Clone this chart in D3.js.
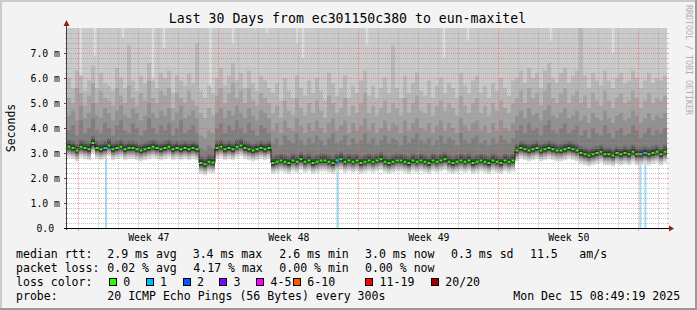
<!DOCTYPE html>
<html><head><meta charset="utf-8">
<script src="https://cdn.jsdelivr.net/npm/d3@7"></script>
<style>
html,body{margin:0;padding:0;background:#f3f3f3;}
svg{display:block;}
text{font-family:"DejaVu Sans Mono",monospace;fill:#000;}
</style></head><body>
<svg id="c" width="697" height="310"></svg>
<script>
// ---------------- DATA ----------------
const titleText = "Last 30 Days from ec301150c380 to eun-maxitel";
const yTicks = [0,1,2,3,4,5,6,7];
const yTickLabels = ["0.0 ","1.0 m","2.0 m","3.0 m","4.0 m","5.0 m","6.0 m","7.0 m"];
const weekLabelPrefix = "Week ";

// median rtt (ms), one value per 4.8 h over 30 days
const med = [3.25,3.2,3.1,3.25,3.2,3.15,3.4,3.2,3.15,3.2,3.3,3.15,3.2,3.25,3.15,3.2,3.2,3.15,3.1,3.15,3.2,3.25,3.2,3.15,3.2,3.25,3.15,3.2,3.15,3.2,3.15,3.2,3.15,
2.6,2.55,2.65,2.62,
3.2,3.25,3.15,3.2,3.15,3.25,3.3,3.2,3.15,3.1,3.15,3.2,3.15,3.2,
2.6,2.65,2.7,2.65,2.6,2.7,2.65,2.75,2.65,2.7,2.6,2.65,2.7,2.7,2.65,2.6,2.7,2.75,2.65,2.7,2.65,2.7,2.6,2.65,2.7,2.65,2.7,2.75,2.65,2.6,2.65,2.7,2.7,2.65,2.6,2.7,2.65,2.7,2.65,2.6,2.7,2.65,2.7,2.75,2.65,2.6,2.65,2.7,2.65,2.7,2.6,2.65,2.7,2.65,2.6,2.7,2.65,2.6,2.7,2.65,2.7,
3.1,3.2,3.15,3.1,3.15,3.2,3.1,3.15,3.2,3.15,3.1,3.1,3.15,3.2,3.15,3.1,
3.0,2.95,2.9,2.95,3.0,3.05,2.95,2.95,2.9,3.0,2.95,3.0,2.95,3.05,2.95,2.95,3.0,2.95,3.0,3.05,2.95,3.05];

// smoke: upper ping quantiles (ms)
const q15 = [3.9,4.1,3.7,4.3,3.8,4.0,4.4,3.9,3.8,4.2,4.0,3.7,4.1,4.3,3.9,3.8,4.2,4.0,3.7,3.9,4.4,4.0,3.8,4.1,3.9,4.2,3.7,4.0,4.3,3.8,3.9,4.1,3.8,
3.2,3.1,3.3,3.2,
4.0,4.2,3.8,4.1,3.9,4.3,4.0,3.8,4.2,3.9,3.7,4.1,4.0,3.8,
3.4,3.6,3.3,3.7,3.5,3.4,3.8,3.5,3.3,3.6,3.4,3.7,3.5,3.3,3.6,3.8,3.4,3.5,3.7,3.3,3.6,3.4,3.5,3.8,3.4,3.6,3.3,3.5,3.7,3.4,3.6,3.5,3.3,3.7,3.4,3.6,3.8,3.5,3.4,3.6,3.3,3.5,3.7,3.4,3.6,3.5,3.3,3.8,3.5,3.4,3.6,3.7,3.4,3.5,3.3,3.6,3.4,3.7,3.5,3.4,3.6,
3.9,4.1,3.8,4.2,3.9,4.0,3.7,4.1,4.3,3.9,3.8,4.0,4.2,3.8,3.9,4.1,
3.7,3.9,3.6,4.0,3.8,3.7,4.1,3.8,3.6,3.9,4.0,3.7,3.8,4.1,3.9,3.6,3.8,4.0,3.7,3.9,3.8,4.0];
const q16 = [4.5,4.7,4.3,4.9,4.4,4.6,5.0,4.5,4.4,4.8,4.6,4.3,4.7,4.9,4.5,4.4,4.8,4.6,4.3,4.5,5.0,4.6,4.4,4.7,4.5,4.8,4.3,4.6,4.9,4.4,4.5,4.7,4.4,
3.7,3.6,3.9,3.8,
4.6,4.8,4.4,4.7,4.5,4.9,4.6,4.4,4.8,4.5,4.3,4.7,4.6,4.4,
3.9,4.2,3.8,4.3,4.0,3.9,4.4,4.1,3.8,4.2,3.9,4.3,4.0,3.8,4.2,4.4,3.9,4.1,4.3,3.8,4.2,3.9,4.1,4.4,3.9,4.2,3.8,4.0,4.3,3.9,4.2,4.1,3.8,4.3,3.9,4.2,4.4,4.0,3.9,4.2,3.8,4.1,4.3,3.9,4.2,4.0,3.8,4.4,4.1,3.9,4.2,4.3,3.9,4.1,3.8,4.2,3.9,4.3,4.0,3.9,4.2,
4.5,4.7,4.4,4.8,4.5,4.6,4.3,4.7,4.9,4.5,4.4,4.6,4.8,4.4,4.5,4.7,
4.3,4.5,4.2,4.6,4.4,4.3,4.7,4.4,4.2,4.5,4.6,4.3,4.4,4.7,4.5,4.2,4.4,4.6,4.3,4.5,4.4,4.6];
const q17 = [5.2,5.0,5.6,5.4,4.9,5.3,5.8,5.0,5.5,5.2,5.1,4.9,5.6,5.3,5.0,5.7,5.2,4.9,5.4,5.1,5.9,5.2,5.0,5.5,5.3,5.6,4.8,5.4,5.2,5.0,5.5,5.1,4.9,
4.6,4.4,4.8,4.5,
5.3,5.6,5.0,5.4,5.8,5.2,5.5,5.0,5.6,5.1,4.9,5.4,5.2,5.0,
4.6,4.9,4.4,5.1,4.7,4.5,5.2,4.8,4.5,5.0,4.6,5.1,4.7,4.4,5.3,5.0,4.6,4.8,5.2,4.5,4.9,4.6,5.0,5.4,4.6,4.9,4.5,4.8,5.1,4.6,5.0,4.8,4.5,5.2,4.6,5.0,5.3,4.7,4.6,5.0,4.5,4.9,5.1,4.7,5.0,4.8,4.5,5.3,4.9,4.6,5.0,5.2,4.6,4.9,4.5,5.0,4.7,5.1,4.8,4.6,5.0,
5.2,5.5,5.0,5.6,5.2,5.4,4.9,5.5,5.8,5.2,5.0,5.4,5.6,5.0,5.3,5.5,
5.0,5.3,4.8,5.4,5.1,4.9,5.5,5.1,4.8,5.2,5.4,5.0,5.1,5.5,5.2,4.8,5.1,5.4,5.0,5.2,5.1,5.3];
const q18 = [6.0,5.6,6.3,6.1,5.5,5.9,6.5,5.6,6.2,5.8,5.7,5.5,6.4,6.0,5.6,7.3,5.9,5.5,6.1,5.8,6.6,5.9,5.6,6.2,6.0,6.3,5.4,6.1,5.9,5.7,6.2,5.8,7.4,
5.5,5.2,5.7,5.4,
6.0,6.4,5.7,6.1,6.6,5.9,6.2,5.6,6.3,5.8,5.5,6.1,5.9,5.6,
5.4,5.8,5.1,6.0,5.5,5.2,6.1,5.6,5.3,5.9,5.4,6.0,5.5,5.1,6.2,5.8,5.3,5.6,6.1,5.2,5.7,5.4,5.9,6.3,5.3,5.7,5.2,5.6,6.0,5.4,7.3,5.6,5.2,6.1,5.4,5.8,6.2,5.5,5.3,5.9,5.2,5.7,6.0,5.4,5.8,5.6,5.2,6.2,5.7,5.4,5.9,6.1,5.4,5.7,5.2,5.8,5.5,6.0,5.6,5.3,5.9,
6.0,6.3,5.8,6.4,6.0,6.2,5.6,6.3,6.6,6.0,5.8,6.2,6.4,5.8,6.1,6.3,
8.5,6.1,5.6,6.2,5.9,5.7,6.3,5.9,5.6,6.0,6.2,5.8,5.9,6.3,6.0,5.6,5.9,6.2,5.8,6.0,5.9,6.1];

// second-highest ping drops below graph top (days from graph start, ms)
const dipDay = [0.69,1.4,2.8,4.3,4.85,7.18,8.3,10.0,11.53,11.8,15.0,18.85,20.05,24.2,27.3];
const dipVal = [5.8,6.9,7.6,6.0,7.2,5.6,7.4,7.8,7.4,6.8,7.3,6.8,7.5,7.5,7.0];

// packet loss events (days from graph start, lost pings of 20)
const lossDay = [1.95,13.52,28.67,28.92];
const lossCount = [1,1,1,1];

const lossLabels = ["0","1","2","3","4-5","6-10","11-19","20/20"];
const lossColors = ["#26ff00","#00b8ff","#0059ff","#7e00ff","#ff00ff","#ff5500","#ff0000","#a10000"];

const row1 = ["median rtt:","2.9 ms avg","3.4 ms max","2.6 ms min","3.0 ms now","0.3 ms sd","11.5","am/s"];
const row2 = ["packet loss:","0.02 % avg","4.17 % max","0.00 % min","0.00 % now"];
const row3Label = "loss color:";
const row4 = ["probe:","20 ICMP Echo Pings (56 Bytes) every 300s","Mon Dec 15 08:49:19 2025"];
const sideText = "RRDTOOL / TOBI OETIKER";
const yTitle = "Seconds";

// ---------------- DRAW ----------------
const W=697,H=310, X0=67, X1=667, Y0=228, Y1=28;
const svg=d3.select("#c");
const start=new Date(2025,10,16,10,26);
const end=new Date(start.getTime()+30*864e5);
const x=d3.scaleTime().domain([start,end]).range([X0,X1]);
const yMax=8;
const y=d3.scaleLinear().domain([0,yMax]).range([Y0,Y1]);
const dayT=d=>new Date(start.getTime()+d*864e5);

// frame
svg.append("rect").attr("width",W).attr("height",H).attr("fill","#f3f3f3");
svg.append("rect").attr("x",0).attr("y",0).attr("width",W).attr("height",2).attr("fill","#cbcbcb");
svg.append("rect").attr("x",0).attr("y",0).attr("width",2).attr("height",H).attr("fill","#cbcbcb");
svg.append("rect").attr("x",0).attr("y",H-2).attr("width",W).attr("height",2).attr("fill","#9a9a9a");
svg.append("rect").attr("x",W-2).attr("y",0).attr("width",2).attr("height",H).attr("fill","#9a9a9a");

svg.append("rect").attr("x",X0).attr("y",Y1).attr("width",X1-X0).attr("height",Y0-Y1).attr("fill","#ffffff");

const defs=svg.append("defs");
defs.append("clipPath").attr("id","plot").append("rect").attr("x",X0).attr("y",Y1).attr("width",X1-X0).attr("height",Y0-Y1);
const g=svg.append("g").attr("clip-path","url(#plot)");

const N=med.length;
const stepMs=(end-start)/N;
const samples=med.map((m,i)=>({t:new Date(start.getTime()+i*stepMs),med:m,q15:q15[i],q16:q16[i],q17:q17[i],q18:q18[i]}));
const sExt=samples.concat([Object.assign({},samples[N-1],{t:end})]);

// loss bars (behind smoke)
g.selectAll("rect.loss").data(lossDay.map((d,i)=>({d,c:lossCount[i]}))).enter().append("rect")
 .attr("x",d=>x(dayT(d.d))-1).attr("width",2)
 .attr("y",y(yMax)).attr("height",y(0)-y(yMax))
 .attr("fill","#9fdcf5");

const grays=["#dddddd","#cacaca","#b7b7b7","#a4a4a4","#919191","#7e7e7e","#6b6b6b","#585858","#454545","#323232"];
const lowOff=[11,9,7.5,6.5,5.5,4.5,3.5,3,2.5,2];
const upF=[
 d=>y(yMax), d=>y(yMax), d=>y(d.q18), d=>y(d.q17), d=>y(d.q16), d=>y(d.q15),
 d=>Math.max(y(d.q15),y(d.med)-7), d=>Math.max(y(d.q15),y(d.med)-5),
 d=>y(d.med)-3.5, d=>y(d.med)-2];
grays.forEach((c,k)=>{
  const a=d3.area().curve(d3.curveStepAfter).x(d=>x(d.t)).y0(d=>y(d.med)+lowOff[k]).y1(upF[k]);
  g.append("path").attr("d",a(sExt)).attr("fill",c);
  if(k===1){
    g.selectAll("rect.dip").data(dipDay.map((d,i)=>({d,v:dipVal[i]}))).enter().append("rect")
      .attr("x",d=>x(dayT(d.d))-1.25).attr("width",2.5)
      .attr("y",y(yMax)).attr("height",d=>y(d.v)-y(yMax)).attr("fill","#dddddd");
  }
});

// median line
const ml=d3.line().curve(d3.curveStepAfter).x(d=>x(d.t)).y(d=>y(d.med));
g.append("path").attr("d",ml(sExt)).attr("fill","none").attr("stroke","#1a1a1a").attr("stroke-width",1);
g.selectAll("line.med").data(samples).enter().append("line")
 .attr("x1",(d,i)=>x(d.t)+0.5).attr("x2",(d,i)=>x(sExt[i+1].t)-0.5)
 .attr("y1",d=>y(d.med)).attr("y2",d=>y(d.med))
 .attr("stroke",lossColors[0]).attr("stroke-width",2);
g.selectAll("line.lossmed").data(lossDay.map((d,i)=>({d,c:lossCount[i]}))).enter().append("line")
 .attr("x1",d=>x(dayT(d.d))-1.5).attr("x2",d=>x(dayT(d.d))+1.5)
 .attr("y1",d=>y(med[Math.min(N-1,Math.floor(d.d/30*N))])).attr("y2",d=>y(med[Math.min(N-1,Math.floor(d.d/30*N))]))
 .attr("stroke",d=>lossColors[d.c]).attr("stroke-width",2);

// grid
const gridC="rgba(150,150,150,0.55)", mgridC="rgba(255,90,90,0.6)";
const minorY=d3.range(0,yMax+0.001,0.2).map(v=>+v.toFixed(1)).filter(v=>Math.abs(v-Math.round(v))>0.01);
const grid=svg.append("g");
minorY.forEach(v=>{
  grid.append("line").attr("x1",X0).attr("x2",X1).attr("y1",y(v)+0.5).attr("y2",y(v)+0.5).attr("stroke",gridC).attr("stroke-dasharray","1,1");
  grid.append("line").attr("x1",X0-2).attr("x2",X0).attr("y1",y(v)+0.5).attr("y2",y(v)+0.5).attr("stroke",gridC);
  grid.append("line").attr("x1",X1).attr("x2",X1+2).attr("y1",y(v)+0.5).attr("y2",y(v)+0.5).attr("stroke",gridC);
});
const days=d3.timeDay.range(start,end).filter(d=>d.getDay()!==1);
days.forEach(d=>{
  const xx=Math.round(x(d))+0.5;
  grid.append("line").attr("x1",xx).attr("x2",xx).attr("y1",Y1).attr("y2",Y0).attr("stroke",gridC).attr("stroke-dasharray","1,1");
  grid.append("line").attr("x1",xx).attr("x2",xx).attr("y1",Y0).attr("y2",Y0+2).attr("stroke",gridC);
});
yTicks.filter(v=>v>0).forEach(v=>{
  grid.append("line").attr("x1",X0).attr("x2",X1).attr("y1",y(v)+0.5).attr("y2",y(v)+0.5).attr("stroke",mgridC).attr("stroke-dasharray","1,1");
  grid.append("line").attr("x1",X0-3).attr("x2",X0).attr("y1",y(v)+0.5).attr("y2",y(v)+0.5).attr("stroke","#555");
  grid.append("line").attr("x1",X1).attr("x2",X1+2).attr("y1",y(v)+0.5).attr("y2",y(v)+0.5).attr("stroke",mgridC);
});
const mondays=d3.timeMonday.range(start,end);
mondays.forEach(d=>{
  const xx=Math.round(x(d))+0.5;
  grid.append("line").attr("x1",xx).attr("x2",xx).attr("y1",Y1).attr("y2",Y0).attr("stroke",mgridC).attr("stroke-dasharray","1,1");
  grid.append("line").attr("x1",xx).attr("x2",xx).attr("y1",Y0).attr("y2",Y0+3).attr("stroke",mgridC);
});

// axes lines + arrows
svg.append("line").attr("x1",X0-0.5).attr("x2",X0-0.5).attr("y1",Y0+2).attr("y2",Y1-4).attr("stroke","#404040");
svg.append("line").attr("x1",X0-3).attr("x2",X1+3).attr("y1",Y0+0.5).attr("y2",Y0+0.5).attr("stroke","#000");
svg.append("path").attr("d",`M${X0-3.5},${Y1-2} L${X0-0.5},${Y1-8} L${X0+2.5},${Y1-2} Z`).attr("fill","#9b1c1c");
svg.append("path").attr("d",`M${X1+2},${Y0-2.5} L${X1+7},${Y0+0.5} L${X1+2},${Y0+3.5} Z`).attr("fill","#9b1c1c");

// y tick labels via axis
const ya=d3.axisLeft(y).tickValues(yTicks).tickFormat((d,i)=>yTickLabels[i]).tickSize(0).tickPadding(7);
const yg=svg.append("g").attr("transform",`translate(${X0},0)`).call(ya);
yg.select(".domain").remove();
yg.selectAll("text").attr("font-family","DejaVu Sans Mono").attr("font-size","9.8px").attr("fill","#000").attr("xml:space","preserve").style("white-space","pre");

// week labels
const weekMid=mondays.filter(d=>d3.timeHour.offset(d,84)<end).map(d=>d3.timeHour.offset(d,84));
const xa=d3.axisBottom(x).tickValues(weekMid).tickFormat(d=>weekLabelPrefix+d3.timeFormat("%V")(d3.timeMonday.floor(d))).tickSize(0).tickPadding(6);
const xg=svg.append("g").attr("transform",`translate(0,${Y0})`).call(xa);
xg.select(".domain").remove();
xg.selectAll("text").attr("font-family","DejaVu Sans Mono").attr("font-size","9.8px").attr("fill","#000");

// title
svg.append("text").attr("x",347.5).attr("y",23).attr("text-anchor","middle").attr("font-size","13.2px").text(titleText);
// y title
svg.append("text").attr("transform","translate(14.5,128) rotate(-90)").attr("text-anchor","middle").attr("font-size","11.5px").text(yTitle);
// side text
svg.append("text").attr("transform","translate(686,5) rotate(90)").attr("text-anchor","start").attr("font-size","8.3px").style("fill","#b0b0b0").text(sideText);

// legend
const LF="11.55px";
const r1x=[16,107.3,192.7,279.3,365,451,530,579.3];
row1.forEach((t,i)=>svg.append("text").attr("x",r1x[i]).attr("y",258).attr("font-size",LF).text(t));
const r2x=[16,107.3,193.3,279.3,365];
row2.forEach((t,i)=>svg.append("text").attr("x",r2x[i]).attr("y",272).attr("font-size",LF).text(t));
svg.append("text").attr("x",16).attr("y",286).attr("font-size",LF).text(row3Label);
const boxX=[109,145.7,182.7,219.3,256.3,293,365.3,431];
lossLabels.forEach((t,i)=>{
  svg.append("rect").attr("x",Math.round(boxX[i])+0.5).attr("y",278.5).attr("width",7).attr("height",7).attr("fill",lossColors[i]).attr("stroke","#000");
  svg.append("text").attr("x",boxX[i]+14.3).attr("y",286).attr("font-size",LF).text(t);
});
const r4x=[16,107.3,513.3];
row4.forEach((t,i)=>svg.append("text").attr("x",r4x[i]).attr("y",300).attr("font-size",LF).text(t));
</script></body></html>
